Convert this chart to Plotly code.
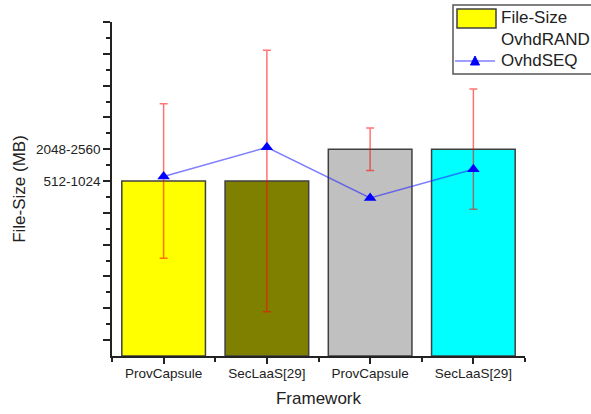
import plotly.graph_objects as go

# Frameworks on the x axis (two measurement groups)
frameworks = ["ProvCapsule", "SecLaaS[29]", "ProvCapsule", "SecLaaS[29]"]
bar_colors = ["#FFFF00", "#808000", "#C0C0C0", "#00FFFF"]

# File-size level for each bar (index on the y axis) and its spread
file_size = [5, 5, 6, 6]
file_size_err = [2.43, 4.11, 0.67, 1.89]

# Sequential overhead, plotted on the same level scale
ovhd_seq = [5.14, 6.06, 4.47, 5.37]

# y axis levels and their labels
y_levels = list(range(11))
y_level_labels = ["", "", "", "", "", "512-1024", "2048-2560", "", "", "", ""]

FONT = "Liberation Sans, Arial, sans-serif"
TXT = "#222222"
W, H = 591, 414
L, R, T, B = 112, 66, 22, 58
BASE = -0.5

x_pos = list(range(len(frameworks)))

fig = go.Figure()

fig.add_trace(go.Bar(
    x=x_pos, y=[v - BASE for v in file_size], base=BASE,
    width=0.81,
    marker=dict(color=bar_colors, line=dict(color="#404040", width=1.5)),
    name="File-Size", showlegend=False,
))

fig.add_trace(go.Scatter(
    x=x_pos, y=file_size, mode="markers",
    marker=dict(size=1, opacity=0),
    error_y=dict(type="data", array=file_size_err, visible=True,
                 color="rgba(255,0,0,0.55)", thickness=1.5, width=4),
    name="OvhdRAND", showlegend=False, hoverinfo="skip",
))

fig.add_trace(go.Scatter(
    x=x_pos, y=ovhd_seq, mode="lines+markers",
    line=dict(color="rgba(40,40,255,0.6)", width=1.5),
    marker=dict(symbol="triangle-up", size=11, color="#0000FF"),
    name="OvhdSEQ", showlegend=False,
))

fig.update_layout(
    width=W, height=H,
    margin=dict(l=L, r=R, t=T, b=B, autoexpand=False),
    paper_bgcolor="white", plot_bgcolor="white",
    font=dict(family=FONT, color=TXT, size=13.5),
    showlegend=False,
)

fig.update_xaxes(
    range=[-0.5, 3.5],
    tickvals=x_pos, ticktext=frameworks,
    ticks="outside", ticklen=6, tickwidth=1.5, tickcolor="#222",
    ticklabelstandoff=-2,
    minor=dict(tickvals=[-0.5, 0.5, 1.5, 2.5, 3.5], ticks="outside",
               ticklen=4, tickwidth=1.5, tickcolor="#222"),
    showline=True, linecolor="#222", linewidth=1.5,
    showgrid=False, zeroline=False,
    tickfont=dict(size=13.5),
    title=dict(text="Framework", font=dict(size=17), standoff=12),
)

fig.update_yaxes(
    range=[BASE, 10],
    tickvals=y_levels, ticktext=y_level_labels,
    ticks="outside", ticklen=7, tickwidth=1.5, tickcolor="#222",
    minor=dict(tickvals=[v + 0.5 for v in y_levels[:-1]], ticks="outside",
               ticklen=4, tickwidth=1.5, tickcolor="#222"),
    showline=True, linecolor="#222", linewidth=1.5,
    showgrid=False, zeroline=False,
    tickfont=dict(size=13.5),
    title=dict(text="File-Size (MB)", font=dict(size=17), standoff=6),
)


# Legend box drawn in pixel space, converted to paper coordinates
def px(x):
    return (x - L) / (W - L - R)


def py(y):
    return (H - B - y) / (H - T - B)


shapes = [
    dict(type="rect", xref="paper", yref="paper",
         x0=px(453), x1=px(620), y0=py(74), y1=py(5),
         line=dict(color="#555555", width=1.5), fillcolor="white", layer="above"),
    dict(type="rect", xref="paper", yref="paper",
         x0=px(457), x1=px(496), y0=py(28), y1=py(9),
         line=dict(color="#404040", width=1.5), fillcolor="#FFFF00", layer="above"),
    dict(type="line", xref="paper", yref="paper",
         x0=px(455), x1=px(495), y0=py(61), y1=py(61),
         line=dict(color="rgba(40,40,255,0.6)", width=1.5), layer="above"),
    dict(type="path", xref="paper", yref="paper",
         path=f"M {px(470.5)} {py(65)} L {px(479.5)} {py(65)} L {px(475)} {py(56)} Z",
         line=dict(color="#0000FF", width=1), fillcolor="#0000FF", layer="above"),
]

legend_names = ["File-Size", "OvhdRAND", "OvhdSEQ"]
legend_y = [18, 39.5, 61]
annotations = [
    dict(xref="paper", yref="paper", x=px(499), y=py(yy), text=name,
         showarrow=False, xanchor="left", yanchor="middle",
         font=dict(size=17, color=TXT, family=FONT))
    for name, yy in zip(legend_names, legend_y)
]

fig.update_layout(shapes=shapes, annotations=annotations)

fig.write_html("out.html")
